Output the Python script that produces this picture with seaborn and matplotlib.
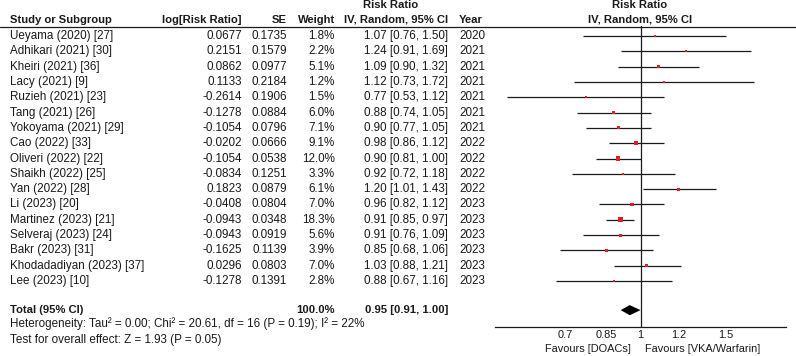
import numpy as np
import matplotlib
matplotlib.use('Agg')
import matplotlib.pyplot as plt
import matplotlib.transforms as mtransforms
from matplotlib.lines import Line2D
import seaborn as sns
import pandas as pd

# ---------------- data ----------------
studies = ['Ueyama (2020) [27]', 'Adhikari (2021) [30]', 'Kheiri (2021) [36]', 'Lacy (2021) [9]',
           'Ruzieh (2021) [23]', 'Tang (2021) [26]', 'Yokoyama (2021) [29]', 'Cao (2022) [33]',
           'Oliveri (2022) [22]', 'Shaikh (2022) [25]', 'Yan (2022) [28]', 'Li (2023) [20]',
           'Martinez (2023) [21]', 'Selveraj (2023) [24]', 'Bakr (2023) [31]',
           'Khodadadiyan (2023) [37]', 'Lee (2023) [10]']
log_rr = [0.0677, 0.2151, 0.0862, 0.1133, -0.2614, -0.1278, -0.1054, -0.0202, -0.1054, -0.0834,
          0.1823, -0.0408, -0.0943, -0.0943, -0.1625, 0.0296, -0.1278]
se = [0.1735, 0.1579, 0.0977, 0.2184, 0.1906, 0.0884, 0.0796, 0.0666, 0.0538, 0.1251,
      0.0879, 0.0804, 0.0348, 0.0919, 0.1139, 0.0803, 0.1391]
weight = [1.8, 2.2, 5.1, 1.2, 1.5, 6.0, 7.1, 9.1, 12.0, 3.3, 6.1, 7.0, 18.3, 5.6, 3.9, 7.0, 2.8]
rr = [1.07, 1.24, 1.09, 1.12, 0.77, 0.88, 0.90, 0.98, 0.90, 0.92, 1.20, 0.96, 0.91, 0.91, 0.85, 1.03, 0.88]
rr_lo = [0.76, 0.91, 0.90, 0.73, 0.53, 0.74, 0.77, 0.86, 0.81, 0.72, 1.01, 0.82, 0.85, 0.76, 0.68, 0.88, 0.67]
rr_hi = [1.50, 1.69, 1.32, 1.72, 1.12, 1.05, 1.05, 1.12, 1.00, 1.18, 1.43, 1.12, 0.97, 1.09, 1.06, 1.21, 1.16]
years = [2020, 2021, 2021, 2021, 2021, 2021, 2021, 2022, 2022, 2022, 2022, 2023, 2023, 2023, 2023, 2023, 2023]

total_rr, total_lo, total_hi = 0.95, 0.91, 1.00
total_weight = 100.0
heterogeneity = 'Heterogeneity: Tau² = 0.00; Chi² = 20.61, df = 16 (P = 0.19); I² = 22%'
overall_test = 'Test for overall effect: Z = 1.93 (P = 0.05)'
x_ticks = [0.7, 0.85, 1, 1.2, 1.5]
x_tick_labels = ['0.7', '0.85', '1', '1.2', '1.5']

df = pd.DataFrame({'study': studies, 'rr': rr, 'lo': rr_lo, 'hi': rr_hi, 'weight': weight})
df['row'] = np.arange(len(df))
total_row = 17.9

# ---------------- figure ----------------
sns.set_style('white')
plt.rcParams['font.family'] = ['Liberation Sans', 'DejaVu Sans']
W, H = 796, 356
fig = plt.figure(figsize=(W / 100, H / 100), dpi=100)

ax_l, ax_r, ax_t, ax_b = 495, 786, 26, 327
ax = fig.add_axes([ax_l / W, 1 - ax_b / H, (ax_r - ax_l) / W, (ax_b - ax_t) / H])
ax.set_xscale('log')
ax.set_xlim(0.5, 2.0)
ax.set_ylim(19.0, -0.65)

FS = 8.4
FSB = 8.1
FS_AX = 7.9
RED = '#e02020'
INK = '#1a1a1a'

# CI lines
ax.hlines(df['row'], df['lo'], df['hi'], color=INK, linewidth=0.9, zorder=2)
# squares (area ~ weight)
sns.scatterplot(data=df, x='rr', y='row', size='weight', sizes=(1.5, 13), marker='s',
                color=RED, edgecolor='none', legend=False, ax=ax, zorder=3)
# pooled diamond
dh = 0.33
ax.fill([total_lo, total_rr, total_hi, total_rr], [total_row, total_row - dh, total_row, total_row + dh],
        color='black', zorder=3, linewidth=0)
ax.axvline(1, color=INK, linewidth=0.9, zorder=1)

ax.set_xticks(x_ticks)
ax.set_xticklabels(x_tick_labels)
ax.xaxis.set_minor_locator(matplotlib.ticker.NullLocator())
ax.tick_params(axis='x', direction='inout', length=6, width=0.9, pad=-0.5, labelsize=FS_AX, colors=INK)
ax.set_yticks([])
for s in ['top', 'right', 'left']:
    ax.spines[s].set_visible(False)
ax.spines['bottom'].set_linewidth(0.9)
ax.spines['bottom'].set_color(INK)
ax.set_xlabel('')
ax.set_ylabel('')
ax.patch.set_alpha(0)

# ---------------- text table ----------------
tr = mtransforms.blended_transform_factory(fig.transFigure, ax.transData)


def fx(px):
    return px / W


def fy(py):
    return 1 - py / H


txt_kw = dict(fontsize=FS, va='center', color=INK)
for i in range(len(studies)):
    fig.text(fx(10), i, studies[i], transform=tr, **txt_kw)
    fig.text(fx(242), i, f'{log_rr[i]:.4f}', transform=tr, ha='right', **txt_kw)
    fig.text(fx(287), i, f'{se[i]:.4f}', transform=tr, ha='right', **txt_kw)
    fig.text(fx(335), i, f'{weight[i]:.1f}%', transform=tr, ha='right', **txt_kw)
    fig.text(fx(448), i, f'{rr[i]:.2f} [{rr_lo[i]:.2f}, {rr_hi[i]:.2f}]', transform=tr, ha='right', **txt_kw)
    fig.text(fx(459), i, str(years[i]), transform=tr, ha='left', **txt_kw)

bold_kw = dict(fontsize=FSB, va='center', color=INK, fontweight='bold')
fig.text(fx(10), total_row, 'Total (95% CI)', transform=tr, **bold_kw)
fig.text(fx(335), total_row, f'{total_weight:.1f}%', transform=tr, ha='right', **bold_kw)
fig.text(fx(448), total_row, f'{total_rr:.2f} [{total_lo:.2f}, {total_hi:.2f}]', transform=tr, ha='right', **bold_kw)
fig.text(fx(10), fy(324), heterogeneity, **txt_kw)
fig.text(fx(10), fy(340), overall_test, **txt_kw)

# headers
fig.text(fx(10), fy(20), 'Study or Subgroup', **bold_kw)
fig.text(fx(242), fy(20), 'log[Risk Ratio]', ha='right', **bold_kw)
fig.text(fx(287), fy(20), 'SE', ha='right', **bold_kw)
fig.text(fx(335), fy(20), 'Weight', ha='right', **bold_kw)
fig.text(fx(391), fy(5), 'Risk Ratio', ha='center', **bold_kw)
fig.text(fx(448), fy(20), 'IV, Random, 95% CI', ha='right', **bold_kw)
fig.text(fx(459), fy(20), 'Year', ha='left', **bold_kw)
fig.text(fx(640), fy(5), 'Risk Ratio', ha='center', **bold_kw)
fig.text(fx(640), fy(20), 'IV, Random, 95% CI', ha='center', **bold_kw)
fig.add_artist(Line2D([0, 1], [fy(26.5), fy(26.5)], color=INK, linewidth=0.9, transform=fig.transFigure))

# favours labels
fig.text(fx(631), fy(349.5), 'Favours [DOACs]', ha='right', fontsize=FS_AX, va='center', color=INK)
fig.text(fx(645), fy(349.5), 'Favours [VKA/Warfarin]', ha='left', fontsize=FS_AX, va='center', color=INK)

fig.savefig('out.png', dpi=100)
